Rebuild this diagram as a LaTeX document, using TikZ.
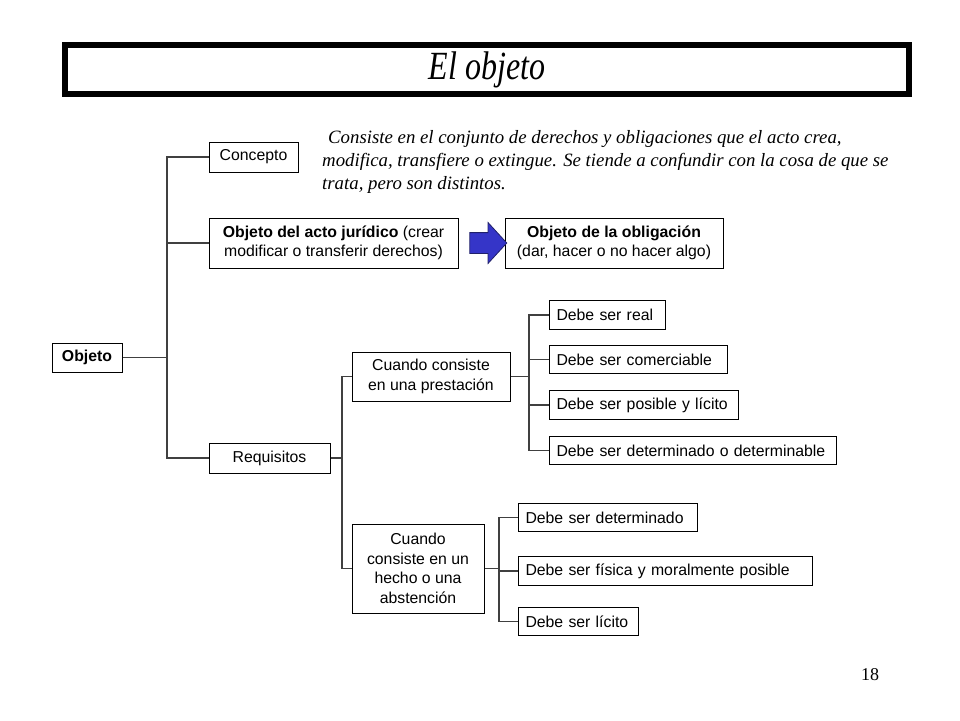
\documentclass[tikz,border=0pt]{standalone}
\usepackage{fontspec}
\setmainfont{Liberation Sans}
\newfontfamily\serifit{Liberation Serif}
\usetikzlibrary{shapes.arrows}
\definecolor{conncol}{HTML}{404040}
\definecolor{arrowblue}{HTML}{3535C8}
\definecolor{arrowline}{HTML}{20206A}
\tikzset{
  box/.style={draw=black, line width=1pt, inner sep=0pt, font=\fontsize{15.8}{19.5}\selectfont, align=center},
  lbox/.style={draw=black, line width=1pt, inner sep=0pt, inner xsep=7pt, anchor=west, font=\fontsize{15.8}{19.5}\selectfont, minimum height=28.5pt, align=left},
  conn/.style={draw=conncol, line width=1.4pt},
}
\begin{document}
\begin{tikzpicture}[x=1pt,y=-1pt]
\useasboundingbox (0,0) rectangle (960,720);
% title
\node[draw=black, line width=6pt, minimum width=844pt, minimum height=49pt, inner sep=0pt] (title) at (487,69.5)
  {\raisebox{-3pt}{\scalebox{0.8}[1]{\serifit\itshape\fontsize{40}{40}\selectfont El objeto}}};
% paragraph
\node[anchor=north west, inner sep=0pt, align=left, font=\serifit\itshape\fontsize{18.8}{23}\selectfont] (para) at (322,130)
  {\hspace{6pt}Consiste en el conjunto de derechos y obligaciones que el acto crea,\\
   modifica, transfiere o extingue. Se tiende a confundir con la cosa de que se\\
   trata, pero son distintos.};
% boxes
\node[box, minimum width=70pt, minimum height=29pt] (objeto) at (87,357.5) {\textbf{Objeto}};
\node[box, minimum width=89pt, minimum height=30pt] (concepto) at (253.5,157) {Concepto};
\node[box, minimum width=249pt, minimum height=50pt] (acto) at (333.5,243) {\textbf{Objeto del acto jurídico} (crear\\modificar o transferir derechos)};
\node[box, minimum width=218pt, minimum height=50pt] (oblig) at (614,243) {\textbf{Objeto de la obligación}\\(dar, hacer o no hacer algo)};
\node[box, minimum width=121pt, minimum height=30pt] (requisitos) at (269.5,458) {Requisitos};
\node[box, minimum width=158pt, minimum height=49pt] (prest) at (431,376.5) {Cuando consiste\\en una prestación};
\node[box, minimum width=132pt, minimum height=89pt] (hecho) at (418,568.5) {Cuando\\consiste en un\\hecho o una\\abstención};
% leaf boxes
\node[lbox, text width=102pt] (real) at (549,315) {Debe ser real};
\node[lbox, text width=164pt] (comerc) at (549,359.5) {Debe ser comerciable};
\node[lbox, text width=175pt] (posible) at (549,405) {Debe ser posible y lícito};
\node[lbox, text width=273pt] (determ) at (549,450.5) {Debe ser determinado o determinable};
\node[lbox, text width=165pt] (hdet) at (518,517.5) {Debe ser determinado};
\node[lbox, text width=280pt] (hfis) at (518,571) {Debe ser física y moralmente posible};
\node[lbox, text width=106pt] (hlic) at (518,621.5) {Debe ser lícito};
% arrow
\node[single arrow, draw=arrowline, fill=arrowblue, line width=0.8pt, inner sep=0pt, minimum height=37pt, minimum width=40pt, text height=20pt, text width=0pt, text depth=0pt, single arrow head extend=10pt, single arrow tip angle=95] (arr) at (483.5,243) {};
% connectors
\coordinate (j1) at (167,357.5);
\coordinate (j2) at (342,458);
\coordinate (j3) at (529,376.5);
\coordinate (j4) at (499,568.5);
\draw[conn] (objeto.east) -- (j1);
\draw[conn] (concepto.west) -- (concepto.west -| j1) |- (requisitos.west);
\draw[conn] (acto.west) -- (acto.west -| j1);
\draw[conn] (requisitos.east) -- (j2);
\draw[conn] (prest.west) -- (prest.west -| j2) |- (hecho.west);
\draw[conn] (prest.east) -- (j3);
\draw[conn] (real.west) -- (real.west -| j3) |- (determ.west);
\draw[conn] (comerc.west) -- (comerc.west -| j3);
\draw[conn] (posible.west) -- (posible.west -| j3);
\draw[conn] (hecho.east) -- (j4);
\draw[conn] (hdet.west) -- (hdet.west -| j4) |- (hlic.west);
\draw[conn] (hfis.west) -- (hfis.west -| j4);
% page number
\node[font=\serifit\fontsize{18}{18}\selectfont, inner sep=0pt] (pnum) at (870,675) {18};
\end{tikzpicture}
\end{document}
